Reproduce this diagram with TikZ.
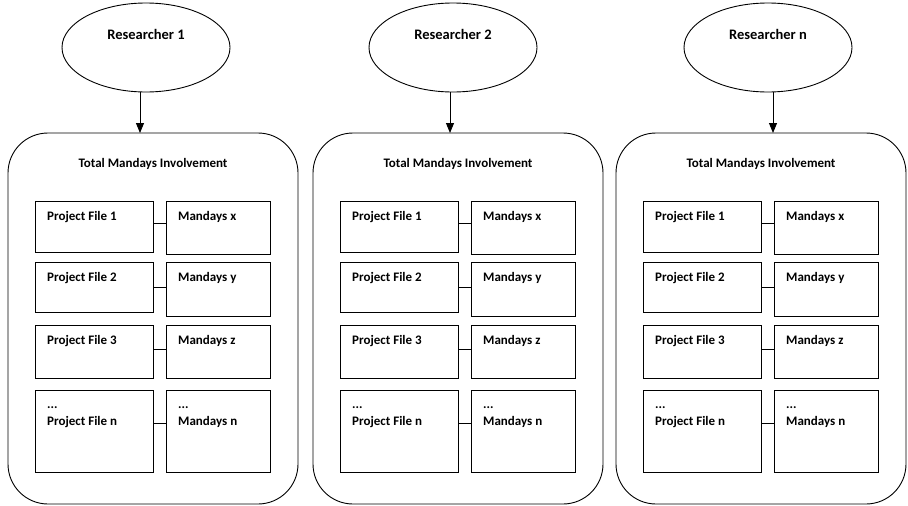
\documentclass[tikz,border=0pt]{standalone}
\usepackage{fontspec}
\setmainfont{Carlito}
\usetikzlibrary{shapes.geometric,arrows.meta,calc}

\tikzset{
  researcher/.style={draw, ellipse, line width=0.9pt, minimum width=168pt, minimum height=89pt, inner sep=0pt, outer sep=0pt},
  restext/.style={anchor=base, inner sep=0pt, font=\fontsize{14.5pt}{16pt}\selectfont\bfseries},
  panelbox/.style={draw, rectangle, rounded corners=40pt, line width=0.9pt, minimum width=290pt, minimum height=371pt, inner sep=0pt, outer sep=0pt},
  titletext/.style={anchor=base, inner sep=0pt, font=\fontsize{13pt}{15pt}\selectfont\bfseries},
  cell/.style={draw, rectangle, line width=0.9pt, inner sep=0pt, outer sep=0pt, anchor=north west},
  celltext/.style={anchor=base west, inner sep=0pt, font=\fontsize{13pt}{15pt}\selectfont\bfseries},
  link/.style={line width=0.9pt, -{Triangle[width=8pt,length=10pt]}},
  tie/.style={line width=0.9pt},
}

% One researcher column: #1 id, #2 left edge of the panel, #3 ellipse centre x,
% #4 arrow x, #5 researcher label
\newcommand{\researcherpanel}[5]{%
  \node[researcher] (r#1) at (#3,47.5) {};
  \node[restext] (rt#1) at (#3,39.5) {#5};
  \node[panelbox, anchor=north west] (b#1) at (#2,133) {};
  \node[titletext] (t#1) at ($(b#1.north)+(0,34)$) {Total Mandays Involvement};
  \coordinate (a#1) at (#4,133);
  \draw[link] (r#1.south -| a#1) -- (a#1);
  \foreach \k/\top/\ph/\mh/\ly/\tb/\pl/\ml in
      {1/68/51/53/22/19/1/x, 2/129/50/54/25/19/2/y, 3/192/53/53/24/19/3/z, 4/257/82/82/33/35/n/n}{
    \node[cell, minimum width=118pt, minimum height=\ph pt] (p#1-\k) at ($(b#1.north west)+(27,\top)$) {};
    \node[cell, minimum width=104pt, minimum height=\mh pt] (m#1-\k) at ($(b#1.north west)+(158,\top)$) {};
    \draw[tie] ($(p#1-\k.north east)+(0,\ly)$) -- ($(p#1-\k.north east -| m#1-\k.west)+(0,\ly)$);
    \node[celltext] (pt#1-\k) at ($(p#1-\k.north west)+(12,\tb)$) {Project File \pl};
    \node[celltext] (mt#1-\k) at ($(m#1-\k.north west)+(12,\tb)$) {Mandays \ml};
  }
  \node[celltext] (pd#1) at ($(p#1-4.north west)+(12,18)$) {...};
  \node[celltext] (md#1) at ($(m#1-4.north west)+(12,18)$) {...};
}

\begin{document}
\begin{tikzpicture}[x=1pt, y=-1pt]
  \useasboundingbox (0,0) rectangle (908,506);
  \researcherpanel{1}{8}{146}{140}{Researcher 1}
  \researcherpanel{2}{313}{453}{450}{Researcher 2}
  \researcherpanel{3}{616}{768}{773}{Researcher n}
\end{tikzpicture}
\end{document}
